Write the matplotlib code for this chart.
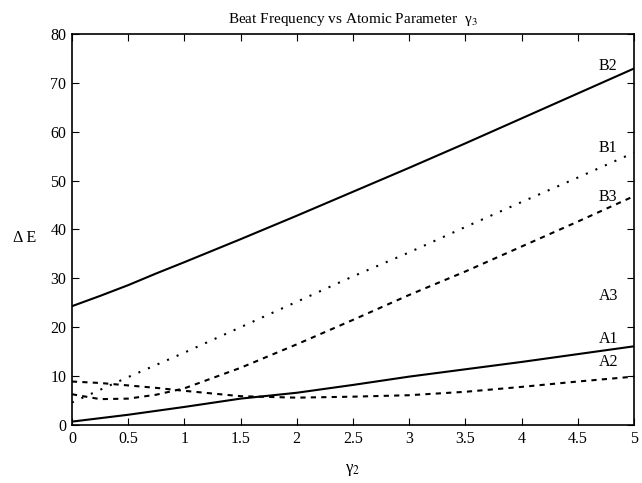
import matplotlib
matplotlib.use("Agg")
import matplotlib.pyplot as plt

plt.rcParams["font.family"] = ["Liberation Serif", "DejaVu Serif"]
plt.rcParams["mathtext.fontset"] = "stix"

# gamma_2 values and the beat frequency curves
gamma2 = [0, 0.25, 0.5, 0.75, 1, 1.5, 2, 2.5, 3, 3.5, 4, 4.5, 5]
A1 = [0.7, 1.4, 2.1, 2.9, 3.7, 5.4, 6.6, 8.2, 9.9, 11.4, 12.9, 14.5, 16.1]
A2 = [8.9, 8.6, 8.1, 7.6, 7.0, 5.9, 5.6, 5.8, 6.1, 6.8, 7.8, 8.9, 9.9]
B1 = [4.6, 7.2, 9.8, 12.3, 14.8, 20.0, 25.2, 30.4, 35.3, 40.5, 45.6, 50.6, 55.7]
B2 = [24.3, 26.4, 28.6, 31.0, 33.3, 38.0, 42.8, 47.7, 52.6, 57.6, 62.7, 67.8, 72.9]
B3 = [6.3, 5.3, 5.4, 6.2, 7.5, 11.7, 16.5, 21.5, 26.6, 31.4, 36.5, 41.6, 46.8]

labels = ["B2", "B1", "B3", "A3", "A1", "A2"]
label_y = [73.5, 56.6, 46.6, 26.4, 17.6, 12.9]

fig = plt.figure(figsize=(6.42, 4.83), dpi=100)
ax = fig.add_axes([0.112, 0.12, 0.8755, 0.81])

ax.plot(gamma2, B2, color="black", lw=1.5)
ax.plot(gamma2, A1, color="black", lw=1.5)
ax.plot(gamma2, B1, color="black", lw=1.5, ls=(0, (1, 4)))
ax.plot(gamma2, B3, color="black", lw=1.5, ls=(0, (2.5, 2.5)))
ax.plot(gamma2, A2, color="black", lw=1.5, ls=(0, (2.5, 2.5)))

for t, yv in zip(labels, label_y):
    ax.text(4.77, yv, t, ha="center", va="center", fontsize=11.5)

ax.set_xlim(0, 5)
ax.set_ylim(0, 80)
ax.set_xticks([0, 0.5, 1, 1.5, 2, 2.5, 3, 3.5, 4, 4.5, 5])
ax.set_xticklabels(["0", "0.5", "1", "1.5", "2", "2.5", "3", "3.5", "4", "4.5", "5"])
ax.set_yticks(range(0, 81, 10))
ax.tick_params(direction="in", top=True, right=True, length=5, labelsize=11.5, pad=4)
for s in ax.spines.values():
    s.set_linewidth(1.2)

ax.set_title("Beat Frequency vs Atomic Parameter  γ$_3$", fontsize=11, pad=8)
ax.set_xlabel("γ$_2$", fontsize=12)
ax.xaxis.set_label_coords(0.5, -0.095)
ax.set_ylabel("Δ E", fontsize=11.5, rotation=0, va="center")
ax.yaxis.set_label_coords(-0.084, 0.478)

fig.savefig("out.png", dpi=100)
